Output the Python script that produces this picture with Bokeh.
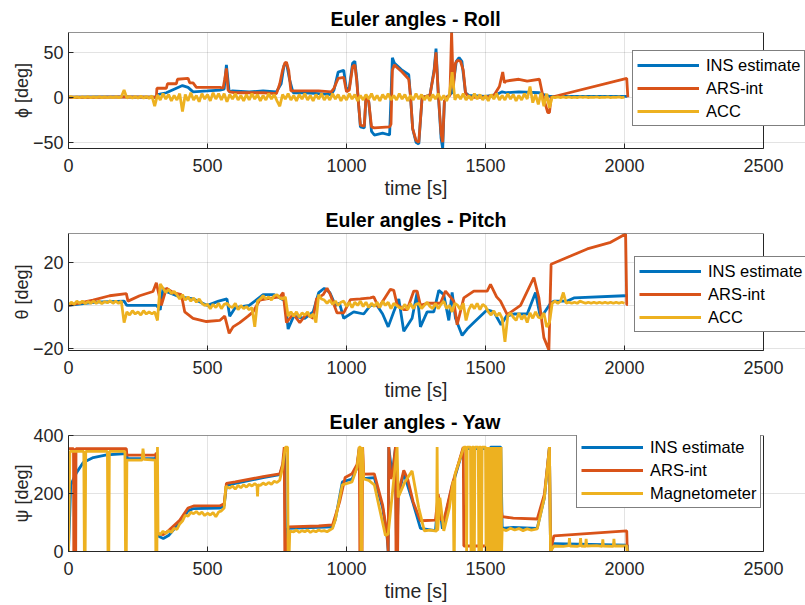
import numpy as np
from bokeh.plotting import figure
from bokeh.layouts import column
from bokeh.models import Range1d, FixedTicker, BoxAnnotation, Title
from bokeh.embed import file_html
from bokeh.resources import INLINE

BLUE = "#0072BD"
ORANGE = "#D95319"
YELLOW = "#EDB120"
AX = "#262626"
FONT = "Liberation Sans"

x_ticks = [0, 500, 1000, 1500, 2000, 2500]
x_lim = (0, 2500)

# ---------------- Roll ----------------
roll_ins = [(0,0),(100,0.3),(200,0.5),(316,0),(320,3),(352,5),(388,10),(410,13),(430,11),(448,6),(500,7),(545,8),(560,9),(568,36),(578,6),(590,7),(650,6),(700,7),(748,6),(765,15),(775,35),(784,38),(795,20),(808,5),(850,5),(900,4),(945,3),(955,8),(970,28),(990,30),(1000,8),(1010,10),(1022,38),(1030,40),(1037,20),(1044,-10),(1050,-33),(1064,-34),(1070,0),(1080,-5),(1090,-38),(1100,-42),(1130,-40),(1155,-42),(1160,0),(1165,44),(1172,38),(1200,30),(1224,25),(1230,2),(1238,-35),(1250,-50),(1260,-52),(1272,0),(1300,2),(1315,30),(1322,54),(1330,5),(1340,-45),(1346,-57),(1352,-5),(1360,0),(1380,5),(1395,40),(1405,44),(1415,40),(1428,5),(1440,2),(1500,1),(1540,3),(1560,6),(1575,5),(1620,6),(1694,5),(1710,3),(1730,1),(1740,1),(1800,1),(1900,1),(2010,1)]
roll_ars = [(0,0),(100,0),(200,0.3),(316,0),(318,10),(352,10),(356,15),(388,15),(392,20),(430,21),(436,16),(448,16),(460,11),(545,11),(556,10),(562,20),(568,32),(574,8),(580,6),(600,5),(700,5),(748,4),(760,15),(770,30),(778,38),(784,39),(792,30),(800,7),(810,7),(900,7),(945,6),(955,10),(970,21),(990,22),(1000,6),(1010,8),(1022,34),(1030,36),(1037,18),(1044,-10),(1050,-31),(1064,-32),(1070,0),(1080,-5),(1090,-33),(1100,-34),(1155,-33),(1160,-30),(1165,30),(1172,36),(1200,28),(1224,20),(1230,2),(1238,-35),(1250,-48),(1260,-50),(1272,0),(1300,2),(1315,28),(1322,50),(1330,5),(1340,-40),(1346,-50),(1352,-5),(1360,0),(1372,2),(1378,73),(1384,10),(1392,38),(1400,41),(1410,40),(1420,30),(1428,5),(1440,0),(1500,0),(1530,2),(1550,12),(1562,28),(1568,16),(1574,18),(1620,20),(1650,18),(1694,20),(1706,2),(1724,-17),(1730,-17),(1736,0),(2008,21),(2012,0)]
roll_acc = [0,0.6,-0.5,0.4,-0.6,0.5,-0.4,0.6,-0.5,0.4,
            -0.5,0.6,-0.4,0.5,-0.6,0.4,-0.5,0.6,-0.4,0.5,
            8,-1,1,-0.8,0.9,-1,1.2,-1,0.8,-1.2,
            1.5,-10,2.5,-3,4,-2,3,-4,2,-3,
            4,-16,3,-4,5,-3,2,-5,4,-2,
            3,-4,5,-2,4,-3,4,-5,3,-2,
            4,-3,2,-4,3,-3,4,-2,3,-4,
            2,-3,4,-2,3,-4,-10,3,-2,4,
            -3,2,-4,3,-2,4,-3,2,-4,3,
            -2,4,-3,2,-3,4,-2,3,-4,2,
            -3,4,-2,3,-4,2,-3,3,-2,4,
            -3,2,-4,3,-2,4,-3,2,-3,4,
            -2,3,-4,2,-3,4,-2,3,-3,2,
            -4,3,-2,4,-3,2,-4,3,28,-3,
            3,-2,4,-3,2,-3,4,-2,3,-3,
            2,-4,3,-2,4,-3,2,-3,4,-2,
            3,-4,2,-3,4,-2,12,-6,3,-8,
            5,-10,4,-12,0.5,-0.5,0.4,-0.3,0.3,-0.3,
            0.3,-0.3,0.2,-0.3,0.3,-0.2,0.3,-0.3,0.2,-0.2,
            0.3,-0.3,0.2,-0.2,0.3,-0.3,0.2,-0.2,0.3,-0.3,0.2]

# ---------------- Pitch ----------------
pitch_ins = [(0,0),(100,1.5),(200,2),(210,0),(316,0),(330,-2),(340,8),(360,6),(400,4),(450,3),(500,0),(540,2),(570,3),(580,-5),(600,-1),(650,0),(700,5),(740,5),(780,2),(790,-11),(810,-5),(850,-6),(880,-3),(900,6),(920,8),(940,6),(960,0),(975,1),(990,-6),(1026,-3),(1062,-4),(1086,0),(1110,0),(1130,-4),(1150,-10),(1170,-3),(1188,3),(1206,-12),(1236,-6),(1254,6),(1266,-10),(1290,-3),(1314,-3),(1332,7),(1350,5),(1368,-7),(1380,6),(1392,-6),(1416,-14),(1434,-11),(1458,-8),(1506,-2),(1530,-3),(1556,-9),(1575,-5),(1602,-4),(1650,-4),(1680,6),(1698,-6),(1734,1),(1746,2),(1794,2),(1818,3.5),(2000,4.5),(2012,4.8)]
pitch_ars = [(0,0),(88,2.5),(148,4.5),(208,5.5),(214,2),(256,4.5),(304,6.5),(316,10.5),(322,7),(334,0),(352,8),(376,6),(406,5),(418,-3),(448,-6),(496,-7.5),(544,-7),(562,-5),(578,-13),(592,-10),(616,-8),(646,-5),(664,-3),(688,2.5),(712,3),(760,4),(772,6),(784,-8),(808,-4),(832,-8),(856,-4),(880,-6),(892,3),(916,5),(930,8),(942,5),(966,-3.5),(990,-3.5),(1014,2.7),(1050,3),(1086,3.5),(1098,4),(1116,-1),(1158,7.5),(1170,7),(1182,0.4),(1206,-2),(1218,-2),(1242,6.7),(1254,6.7),(1266,0),(1290,1),(1338,1),(1356,6.7),(1386,2),(1398,-9),(1422,3.5),(1458,6.7),(1506,6.7),(1518,9.8),(1540,4),(1554,2),(1578,-4.3),(1626,0),(1674,13),(1692,3.5),(1710,-15),(1728,-20.8),(1736,19.2),(1806,23),(1866,26.3),(1950,29.4),(2004,33.3),(2008,0.4),(2012,0.4)]
pitch_acc = [0,1.5,0.5,2,1,2,0.8,1.8,1,2,
             1,2,0.8,1.8,1.2,2.2,1,2,1,2,
             -8,-3,-4.5,-2.5,-4,-3,-4.5,-2.5,-4,-3,
             -4,-3,-7,10,8,6,7.5,5.5,6.5,5,
             3,5,2.5,4,2,3.5,1.5,3,1,0,
             0.5,-1.5,0.5,-1,1,-1.5,0.5,1,-0.5,-1,
             1,-2,0,-1.5,-0.5,-2,-1,-10,2,3,
             4.5,3,4,2.5,4.5,5,3.5,3,4,-5,
             -3,-5,-3,-5.5,-3.5,-4.5,-3,-5.5,-4,-8,
             5,3,2.5,1,2.5,0.5,2,0,1.5,2,
             -0.5,1.5,-1,1.5,0,2,-0.5,1.5,-1,1,
             -0.5,1.5,-1,2,0,1.5,-1.5,1,0,-1,
             -1.5,0.5,-2,1,-1.5,0.5,1,-1.5,0,1.5,
             -0.5,-1.5,1,-1.5,0.5,2,-1.5,0,-3,1,
             0,-2,1,-7,-2,0.5,-1.5,1,-2,0.5,
             -0.5,-3,-4.5,-2.5,-5,-3.5,-6,-17,-5,-3.5,
             -5.5,-7,-3.5,-6.5,-4.5,-8,-3.5,-6,-3,-5.5,
             -6,-3.5,-10,-8,1,2,1,2,6,1,
             1.5,1,1.5,1,2,1.5,1,1.5,1,1.5,
             1,1.5,1,1.5,1,1.5,1,1.5,1,1.5,1]

# ---------------- Yaw ----------------
yaw_ins = [(0,0),(8,230),(29,272),(53,307),(89,324),(137,333),(208,338),(212,320),(312,320),(316,330),(318,55),(341,45),(360,55),(400,100),(430,140),(450,148),(545,150),(560,158),(568,228),(600,235),(700,255),(760,265),(772,300),(778,355),(781,0),(787,0),(790,80),(950,85),(960,110),(985,240),(1020,250),(1038,290),(1046,355),(1050,250),(1100,255),(1130,150),(1146,50),(1150,0),(1152,360),(1164,265),(1176,355),(1180,0),(1186,190),(1206,270),(1240,165),(1266,80),(1320,72),(1330,190),(1345,78),(1380,225),(1420,355),(1508,355),(1511,0),(1516,0),(1518,360),(1555,360),(1560,80),(1600,83),(1686,80),(1712,186),(1730,360),(1734,0),(1746,27),(2010,22),(2012,0)]
yaw_ars = [(0,355),(18,355),(19,0),(26,0),(27,355),(208,355),(210,332),(312,332),(316,340),(318,62),(341,58),(360,72),(400,108),(430,150),(450,157),(545,158),(560,165),(568,235),(600,240),(700,258),(760,268),(770,300),(776,360),(778,0),(786,0),(790,85),(900,88),(950,92),(975,170),(995,255),(1020,268),(1038,300),(1046,360),(1048,0),(1056,0),(1058,360),(1062,267),(1100,268),(1130,160),(1146,60),(1150,0),(1152,360),(1160,250),(1168,280),(1176,360),(1178,0),(1184,0),(1186,200),(1206,280),(1220,250),(1240,170),(1266,106),(1320,108),(1330,198),(1340,110),(1350,106),(1380,230),(1420,360),(1422,19),(1506,19),(1545,19),(1550,200),(1560,120),(1600,115),(1686,112),(1712,198),(1730,360),(1734,0),(1746,54),(2008,71),(2010,0)]
yaw_mag = [(0,0),(5,345),(55,345),(57,0),(60,0),(62,345),(140,345),(142,0),(145,0),(147,345),(203,345),(205,0),(208,0),(210,315),(265,315),(268,355),(272,318),(312,315),(314,0),(318,0),(320,360),(322,65),(330,58),(340,70),(350,62),(360,72),(370,66),(380,80),(390,76),(400,95),(410,105),(420,125),(430,122),(440,135),(450,130),(460,138),(470,128),(480,136),(490,124),(500,132),(510,126),(520,134),(530,120),(540,136),(550,140),(560,150),(566,225),(580,218),(590,226),(600,215),(610,228),(620,220),(630,230),(640,222),(650,232),(660,226),(670,234),(678,228),(680,190),(682,230),(690,228),(700,236),(710,230),(720,238),(730,232),(740,242),(750,238),(760,246),(770,290),(780,360),(788,360),(790,0),(794,0),(796,70),(810,68),(820,74),(830,66),(840,72),(850,68),(860,74),(870,66),(880,72),(890,68),(900,74),(910,70),(920,72),(930,68),(940,74),(950,80),(960,110),(985,230),(1020,240),(1038,290),(1046,360),(1050,360),(1052,0),(1055,0),(1057,360),(1062,250),(1080,245),(1100,230),(1140,55),(1150,60),(1182,360),(1186,186),(1210,240),(1236,278),(1260,150),(1280,71),(1300,74),(1324,70),(1326,360),(1328,72),(1336,186),(1350,71),(1370,150),(1384,244),(1386,0),(1388,0),(1390,265),(1422,360),(1430,360),(1432,0),(1434,360),(1446,360),(1448,0),(1450,0),(1452,360),(1458,360),(1460,0),(1462,360),(1474,360),(1476,0),(1478,360),(1484,360),(1486,0),(1488,360),(1500,360),(1502,0),(1504,360),(1506,0),(1508,360),(1510,0),(1512,360),(1514,0),(1516,360),(1518,0),(1520,360),(1522,0),(1524,360),(1526,0),(1528,360),(1530,0),(1532,360),(1534,0),(1536,360),(1538,0),(1540,360),(1542,0),(1544,360),(1546,0),(1548,360),(1550,0),(1552,360),(1554,0),(1556,360),(1558,0),(1560,77),(1575,72),(1590,80),(1605,74),(1620,79),(1635,72),(1650,78),(1665,74),(1686,78),(1712,186),(1730,360),(1734,0),(1746,19),(1780,18),(1800,20),(1802,46),(1804,19),(1830,18),(1840,20),(1842,46),(1844,19),(1860,18),(1862,44),(1864,19),(1900,20),(1920,18),(1922,42),(1924,19),(1960,18),(1962,44),(1964,19),(2008,19),(2010,0)]

acc_t = list(range(0, 2001, 10))

# Layout: axes box 68..763 px; the plot frame runs to the window edge so the
# legends may overhang the box, as in the reference.
FRAME_L, BOX_R, WIN_W = 68, 763, 805
x_end_ext = x_lim[1] * (WIN_W - FRAME_L) / (BOX_R - FRAME_L)


def unzip(pairs):
    return [a for a, b in pairs], [b for a, b in pairs]


def make_fig(h, bottom, title, title_off, ylabel, yr, yticks, series, labels, legend_loc):
    p = figure(width=WIN_W, height=h, output_backend="svg", toolbar_location=None,
               x_range=Range1d(x_lim[0], x_end_ext), y_range=Range1d(*yr),
               min_border_left=FRAME_L, min_border_right=0, min_border_top=32,
               min_border_bottom=bottom)
    p.title.text = title
    p.title.align = "left"
    p.title.offset = title_off
    p.title.text_font = FONT
    p.title.text_font_size = "19.5px"
    p.title.text_font_style = "bold"
    p.title.text_color = "#000000"
    p.title.standoff = 5
    p.outline_line_color = None
    for ax in (p.xaxis[0], p.yaxis[0]):
        ax.axis_line_color = AX
        ax.major_tick_line_color = AX
        ax.major_tick_in = 5
        ax.major_tick_out = 0
        ax.minor_tick_in = 0
        ax.minor_tick_out = 0
        ax.major_label_text_font = FONT
        ax.major_label_text_font_size = "18px"
        ax.major_label_text_color = AX
        ax.axis_label_text_font = FONT
        ax.axis_label_text_font_style = "normal"
        ax.axis_label_text_color = AX
    p.xaxis.bounds = x_lim
    p.xaxis.ticker = FixedTicker(ticks=x_ticks)
    p.yaxis.ticker = FixedTicker(ticks=yticks)
    p.xaxis.major_label_standoff = 10
    xl = Title(text="time [s]", align="left", offset=316, text_font=FONT,
               text_font_size="19.5px", text_font_style="normal", text_color=AX,
               standoff=0)
    p.add_layout(xl, "below")
    p.yaxis.axis_label = ylabel
    p.yaxis.axis_label_text_font_size = "18px"
    p.yaxis.major_label_standoff = 5
    p.yaxis.axis_label_standoff = -2
    for g in (p.xgrid[0], p.ygrid[0]):
        g.grid_line_color = AX
        g.grid_line_alpha = 0.13
    p.ygrid.bounds = x_lim
    colors = [BLUE, ORANGE, YELLOW]
    for (xs, ys), c, lab in zip(series, colors, labels):
        p.line(xs, ys, line_color=c, line_width=2.8, legend_label=lab)
    p.add_layout(BoxAnnotation(left=x_lim[0], right=x_lim[1], bottom=yr[0], top=yr[1],
                               fill_alpha=0, line_color=AX, line_width=1, line_alpha=1))
    lg = p.legend[0]
    lg.location = legend_loc
    lg.margin = 0
    lg.padding = 4
    lg.spacing = 3
    lg.glyph_width = 62
    lg.glyph_height = 20
    lg.label_height = 20
    lg.label_standoff = 7
    lg.label_text_font = FONT
    lg.label_text_font_size = "16.5px"
    lg.label_text_color = "#000000"
    lg.border_line_color = "#000000"
    lg.border_line_width = 1
    lg.background_fill_color = "white"
    lg.background_fill_alpha = 1
    return p


p1 = make_fig(201, 53, "Euler angles - Roll", 262, "ϕ [deg]", (-57, 72), [-50, 0, 50],
              [unzip(roll_ins), unzip(roll_ars), (acc_t, roll_acc)],
              ["INS estimate", "ARS-int", "ACC"], (564, 22))
p2 = make_fig(202, 53, "Euler angles - Pitch", 257, "θ [deg]", (-21, 33.5), [-20, 0, 20],
              [unzip(pitch_ins), unzip(pitch_ars), (acc_t, pitch_acc)],
              ["INS estimate", "ARS-int", "ACC"], (566, 18))
p3 = make_fig(202, 54, "Euler angles - Yaw", 261, "ψ [deg]", (0, 400), [0, 200, 400],
              [unzip(yaw_ins), unzip(yaw_ars), unzip(yaw_mag)],
              ["INS estimate", "ARS-int", "Magnetometer"], (508, 43))

layout = column(p1, p2, p3, spacing=0)
open("out.html", "w").write(file_html(layout, INLINE))
